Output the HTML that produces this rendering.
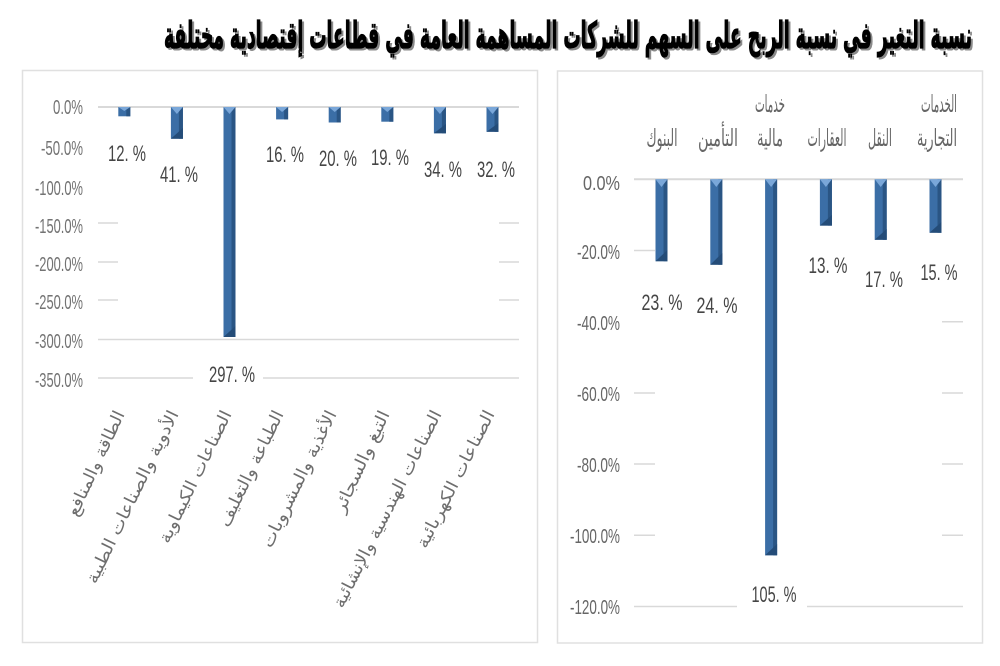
<!DOCTYPE html>
<html><head><meta charset="utf-8"><style>
html,body{margin:0;padding:0;background:#fff;}
svg{display:block;}
</style></head><body>
<svg width="1000" height="666" viewBox="0 0 1000 666" xmlns="http://www.w3.org/2000/svg">
<rect width="1000" height="666" fill="#fff"/>
<!-- Title -->
<g font-family="DejaVu Sans, sans-serif" font-weight="bold" font-size="37">
<text x="166" y="50" textLength="808" lengthAdjust="spacingAndGlyphs" fill="#8a8a8a" stroke="#8a8a8a" stroke-width="1">نسبة التغير في نسبة الربح على السهم للشركات المساهمة العامة في قطاعات إقتصادية مختلفة</text>
<text x="164" y="48" textLength="808" lengthAdjust="spacingAndGlyphs" fill="#000" stroke="#000" stroke-width="1.2">نسبة التغير في نسبة الربح على السهم للشركات المساهمة العامة في قطاعات إقتصادية مختلفة</text>
</g>
<!-- Panels -->
<rect x="22.5" y="70.5" width="515" height="572" fill="#fff" stroke="#e0e0e0" stroke-width="1.5"/>
<rect x="557.5" y="71" width="425" height="572" fill="#fff" stroke="#e0e0e0" stroke-width="1.5"/>

<!-- LEFT CHART gridlines -->
<g stroke="#d9d9d9" stroke-width="1.5">
<line x1="98" y1="107" x2="519" y2="107" stroke-width="2"/>
<line x1="98" y1="223" x2="118" y2="223"/><line x1="499" y1="223" x2="519" y2="223"/>
<line x1="98" y1="262" x2="118" y2="262"/><line x1="499" y1="262" x2="519" y2="262"/>
<line x1="98" y1="300" x2="118" y2="300"/><line x1="499" y1="300" x2="519" y2="300"/>
<line x1="98" y1="339.5" x2="519" y2="339.5"/>
<line x1="98" y1="378" x2="193" y2="378"/><line x1="263" y1="378" x2="519" y2="378"/>
</g>
<!-- Left axis labels -->
<g font-family="Liberation Sans, sans-serif" font-size="20" fill="#737373" text-anchor="end">
<text x="83" y="114" textLength="30" lengthAdjust="spacingAndGlyphs">0.0%</text>
<text x="83" y="155" textLength="42" lengthAdjust="spacingAndGlyphs">-50.0%</text>
<text x="83" y="195" textLength="48" lengthAdjust="spacingAndGlyphs">-100.0%</text>
<text x="83" y="233" textLength="48" lengthAdjust="spacingAndGlyphs">-150.0%</text>
<text x="83" y="271" textLength="48" lengthAdjust="spacingAndGlyphs">-200.0%</text>
<text x="83" y="309" textLength="48" lengthAdjust="spacingAndGlyphs">-250.0%</text>
<text x="83" y="348" textLength="48" lengthAdjust="spacingAndGlyphs">-300.0%</text>
<text x="83" y="387" textLength="48" lengthAdjust="spacingAndGlyphs">-350.0%</text>
</g>
<!-- Left bars -->
<g>
<g transform="translate(124.3,0)"><rect x="-6" y="107" width="12" height="9.3" fill="#3b6ea6"/><rect x="2" y="107" width="4" height="9.3" fill="#2a5584"/><polygon points="-6,107 6,107 0,111" fill="#7aa7d9"/></g>
<g transform="translate(176.9,0)"><rect x="-6" y="107" width="12" height="31.7" fill="#3b6ea6"/><rect x="2" y="107" width="4" height="31.7" fill="#2a5584"/><polygon points="-6,107 6,107 0,114" fill="#7aa7d9"/><polygon points="-6,138.7 6,138.7 6,128" fill="#244c78"/></g>
<g transform="translate(229.5,0)"><rect x="-6" y="107" width="12" height="230" fill="#3b6ea6"/><rect x="2" y="107" width="4" height="230" fill="#2a5584"/><polygon points="-6,107 6,107 0,114" fill="#7aa7d9"/><polygon points="-6,337 6,337 6,326" fill="#244c78"/></g>
<g transform="translate(282.1,0)"><rect x="-6" y="107" width="12" height="12.4" fill="#3b6ea6"/><rect x="2" y="107" width="4" height="12.4" fill="#2a5584"/><polygon points="-6,107 6,107 0,112" fill="#7aa7d9"/></g>
<g transform="translate(334.7,0)"><rect x="-6" y="107" width="12" height="15.5" fill="#3b6ea6"/><rect x="2" y="107" width="4" height="15.5" fill="#2a5584"/><polygon points="-6,107 6,107 0,112" fill="#7aa7d9"/></g>
<g transform="translate(387.3,0)"><rect x="-6" y="107" width="12" height="14.7" fill="#3b6ea6"/><rect x="2" y="107" width="4" height="14.7" fill="#2a5584"/><polygon points="-6,107 6,107 0,112" fill="#7aa7d9"/></g>
<g transform="translate(439.9,0)"><rect x="-6" y="107" width="12" height="26.3" fill="#3b6ea6"/><rect x="2" y="107" width="4" height="26.3" fill="#2a5584"/><polygon points="-6,107 6,107 0,114" fill="#7aa7d9"/><polygon points="-6,133.3 6,133.3 6,124" fill="#244c78"/></g>
<g transform="translate(492.5,0)"><rect x="-6" y="107" width="12" height="24.8" fill="#3b6ea6"/><rect x="2" y="107" width="4" height="24.8" fill="#2a5584"/><polygon points="-6,107 6,107 0,114" fill="#7aa7d9"/><polygon points="-6,131.8 6,131.8 6,123" fill="#244c78"/></g>
</g>
<!-- Left data labels -->
<g font-family="Liberation Sans, sans-serif" font-size="22" fill="#454545" text-anchor="middle">
<text x="127" y="161" textLength="38" lengthAdjust="spacingAndGlyphs">12. %</text>
<text x="179" y="182" textLength="38" lengthAdjust="spacingAndGlyphs">41. %</text>
<text x="232" y="382" textLength="46" lengthAdjust="spacingAndGlyphs">297. %</text>
<text x="285" y="162" textLength="38" lengthAdjust="spacingAndGlyphs">16. %</text>
<text x="338" y="166" textLength="38" lengthAdjust="spacingAndGlyphs">20. %</text>
<text x="390" y="165" textLength="38" lengthAdjust="spacingAndGlyphs">19. %</text>
<text x="443" y="177" textLength="38" lengthAdjust="spacingAndGlyphs">34. %</text>
<text x="496" y="177" textLength="38" lengthAdjust="spacingAndGlyphs">32. %</text>
</g>
<!-- Left category labels (rotated) -->
<g font-family="DejaVu Sans, sans-serif" font-size="17" fill="#6e6e6e" text-anchor="end">
<text transform="translate(125,414) rotate(-65)" textLength="114" lengthAdjust="spacingAndGlyphs">الطاقة والمنافع</text>
<text transform="translate(179,414) rotate(-64)" textLength="190" lengthAdjust="spacingAndGlyphs">الأدوية والصناعات الطبية</text>
<text transform="translate(232,414) rotate(-64)" textLength="145" lengthAdjust="spacingAndGlyphs">الصناعات الكيماوية</text>
<text transform="translate(284,414) rotate(-64)" textLength="127" lengthAdjust="spacingAndGlyphs">الطباعة والتغليف</text>
<text transform="translate(337,414) rotate(-64)" textLength="150" lengthAdjust="spacingAndGlyphs">الأغذية والمشروبات</text>
<text transform="translate(390,414) rotate(-65)" textLength="110" lengthAdjust="spacingAndGlyphs">التبغ والسجائر</text>
<text transform="translate(442,414) rotate(-63)" textLength="219" lengthAdjust="spacingAndGlyphs">الصناعات الهندسية والإنشائية</text>
<text transform="translate(495,414) rotate(-63)" textLength="152" lengthAdjust="spacingAndGlyphs">الصناعات الكهربائية</text>
</g>

<!-- RIGHT CHART gridlines -->
<g stroke="#d9d9d9" stroke-width="1.5">
<line x1="634" y1="179.3" x2="963" y2="179.3" stroke-width="2"/>
<line x1="634" y1="250.5" x2="655" y2="250.5"/>
<line x1="942" y1="321.7" x2="963" y2="321.7"/>
<line x1="634" y1="393" x2="655" y2="393"/><line x1="942" y1="393" x2="963" y2="393"/>
<line x1="634" y1="464" x2="655" y2="464"/><line x1="942" y1="464" x2="963" y2="464"/>
<line x1="634" y1="535.3" x2="655" y2="535.3"/><line x1="942" y1="535.3" x2="963" y2="535.3"/>
<line x1="634" y1="606.5" x2="737" y2="606.5"/><line x1="807" y1="606.5" x2="963" y2="606.5"/>
</g>
<!-- Right axis labels -->
<g font-family="Liberation Sans, sans-serif" font-size="20" fill="#666" text-anchor="end">
<text x="620" y="190" textLength="37" lengthAdjust="spacingAndGlyphs">0.0%</text>
<text x="620" y="259" textLength="43" lengthAdjust="spacingAndGlyphs">-20.0%</text>
<text x="620" y="330" textLength="43" lengthAdjust="spacingAndGlyphs">-40.0%</text>
<text x="620" y="401" textLength="43" lengthAdjust="spacingAndGlyphs">-60.0%</text>
<text x="620" y="472" textLength="43" lengthAdjust="spacingAndGlyphs">-80.0%</text>
<text x="620" y="543" textLength="50" lengthAdjust="spacingAndGlyphs">-100.0%</text>
<text x="620" y="614" textLength="50" lengthAdjust="spacingAndGlyphs">-120.0%</text>
</g>
<!-- Right bars -->
<g>
<g transform="translate(661.5,0)"><rect x="-6" y="179.3" width="12" height="81.9" fill="#3b6ea6"/><rect x="2" y="179.3" width="4" height="81.9" fill="#2a5584"/><polygon points="-6,179.3 6,179.3 0,187" fill="#7aa7d9"/><polygon points="-6,261.2 6,261.2 6,250" fill="#244c78"/></g>
<g transform="translate(716.3,0)"><rect x="-6" y="179.3" width="12" height="85.4" fill="#3b6ea6"/><rect x="2" y="179.3" width="4" height="85.4" fill="#2a5584"/><polygon points="-6,179.3 6,179.3 0,187" fill="#7aa7d9"/><polygon points="-6,264.7 6,264.7 6,253" fill="#244c78"/></g>
<g transform="translate(771.1,0)"><rect x="-6" y="179.3" width="12" height="376" fill="#3b6ea6"/><rect x="2" y="179.3" width="4" height="376" fill="#2a5584"/><polygon points="-6,179.3 6,179.3 0,187" fill="#7aa7d9"/><polygon points="-6,555.3 6,555.3 6,544" fill="#244c78"/></g>
<g transform="translate(825.9,0)"><rect x="-6" y="179.3" width="12" height="46.3" fill="#3b6ea6"/><rect x="2" y="179.3" width="4" height="46.3" fill="#2a5584"/><polygon points="-6,179.3 6,179.3 0,187" fill="#7aa7d9"/><polygon points="-6,225.6 6,225.6 6,215" fill="#244c78"/></g>
<g transform="translate(880.7,0)"><rect x="-6" y="179.3" width="12" height="60.5" fill="#3b6ea6"/><rect x="2" y="179.3" width="4" height="60.5" fill="#2a5584"/><polygon points="-6,179.3 6,179.3 0,187" fill="#7aa7d9"/><polygon points="-6,239.8 6,239.8 6,229" fill="#244c78"/></g>
<g transform="translate(935.5,0)"><rect x="-6" y="179.3" width="12" height="53.4" fill="#3b6ea6"/><rect x="2" y="179.3" width="4" height="53.4" fill="#2a5584"/><polygon points="-6,179.3 6,179.3 0,187" fill="#7aa7d9"/><polygon points="-6,232.7 6,232.7 6,222" fill="#244c78"/></g>
</g>
<!-- Right data labels -->
<g font-family="Liberation Sans, sans-serif" font-size="22" fill="#454545" text-anchor="middle">
<text x="662" y="310" textLength="41" lengthAdjust="spacingAndGlyphs">23. %</text>
<text x="717" y="313" textLength="41" lengthAdjust="spacingAndGlyphs">24. %</text>
<text x="774" y="602" textLength="45" lengthAdjust="spacingAndGlyphs">105. %</text>
<text x="828" y="273" textLength="39" lengthAdjust="spacingAndGlyphs">13. %</text>
<text x="884" y="287" textLength="38" lengthAdjust="spacingAndGlyphs">17. %</text>
<text x="939" y="280" textLength="37" lengthAdjust="spacingAndGlyphs">15. %</text>
</g>
<!-- Right category labels -->
<g font-family="DejaVu Sans, sans-serif" font-size="24" fill="#666" text-anchor="middle">
<text x="662" y="146" textLength="31" lengthAdjust="spacingAndGlyphs">البنوك</text>
<text x="718" y="146" textLength="40" lengthAdjust="spacingAndGlyphs">التأمين</text>
<text x="770" y="112" textLength="30" lengthAdjust="spacingAndGlyphs">خدمات</text>
<text x="770" y="146" textLength="26" lengthAdjust="spacingAndGlyphs">مالية</text>
<text x="827" y="146" textLength="39" lengthAdjust="spacingAndGlyphs">العقارات</text>
<text x="880" y="146" textLength="24" lengthAdjust="spacingAndGlyphs">النقل</text>
<text x="939" y="112" textLength="36" lengthAdjust="spacingAndGlyphs">الخدمات</text>
<text x="937" y="146" textLength="40" lengthAdjust="spacingAndGlyphs">التجارية</text>
</g>
</svg>
</body></html>
